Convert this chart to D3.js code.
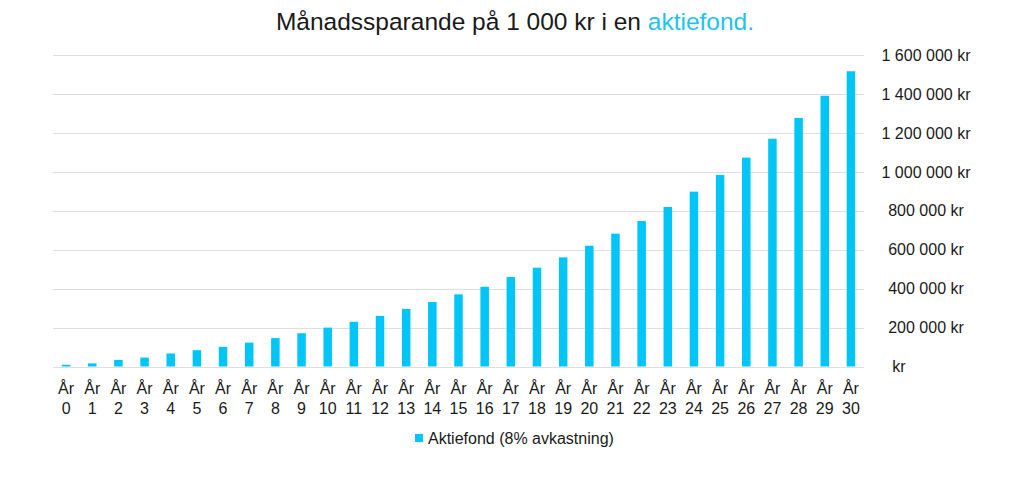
<!DOCTYPE html>
<html>
<head>
<meta charset="utf-8">
<script src="https://cdn.jsdelivr.net/npm/d3@7"></script>
<style>
  body { margin: 0; background: #fff; }
  text { font-family: "Liberation Sans", Arial, sans-serif; fill: #1a1a1a; }
</style>
</head>
<body>
<div id="chart"></div>
<script>
// data
var years = d3.range(0, 31);
var values = [9000, 16000, 34000, 46000, 67000, 84000, 101000, 123000, 146000, 171000,
  200000, 230000, 260000, 296000, 332000, 371000, 410000, 460000, 508000, 561000,
  621000, 683000, 748000, 820000, 899000, 985000, 1074000, 1171000, 1278000, 1392000, 1518000];
var yTicks = [0, 200000, 400000, 600000, 800000, 1000000, 1200000, 1400000, 1600000];
var seriesName = 'Aktiefond (8% avkastning)';
var barColor = '#00c6f8';

chart();

function chart() {
  var w = 1024, h = 497;
  var left = 53, right = 864, top = 55.3, bottom = 366.5;

  var svg = d3.select('#chart').append('svg')
    .attr('width', w)
    .attr('height', h);

  svg.append('rect').attr('width', w).attr('height', h).attr('fill', '#fff');

  var x = d3.scaleBand()
    .domain(years)
    .range([left, right])
    .paddingInner(0.675)
    .paddingOuter(0.3375);

  var y = d3.scaleLinear()
    .domain([0, 1600000])
    .range([bottom, top]);

  // gridlines
  svg.append('g').selectAll('line')
    .data(yTicks)
    .enter()
    .append('line')
    .attr('x1', left)
    .attr('x2', right)
    .attr('y1', function(d) { return Math.round(y(d)) + 0.5; })
    .attr('y2', function(d) { return Math.round(y(d)) + 0.5; })
    .attr('stroke', '#dedede')
    .attr('stroke-width', 1.2);

  // y labels on the right
  var fmt = function(d) {
    if (d === 0) return 'kr';
    return d3.format(',')(d).replace(/,/g, ' ') + ' kr';
  };
  svg.append('g').selectAll('text')
    .data(yTicks)
    .enter()
    .append('text')
    .attr('x', function(d) { return d === 0 ? 899 : 926; })
    .attr('y', function(d) { return y(d) + 5.5; })
    .attr('text-anchor', 'middle')
    .attr('font-size', 16)
    .text(fmt);

  // bars
  svg.append('g').selectAll('rect')
    .data(values)
    .enter()
    .append('rect')
    .attr('x', function(d, i) { return x(years[i]); })
    .attr('y', function(d) { return y(d); })
    .attr('width', x.bandwidth())
    .attr('height', function(d) { return y(0) - y(d); })
    .attr('fill', barColor);

  // x labels
  var xl = svg.append('g').selectAll('g')
    .data(years)
    .enter()
    .append('g')
    .attr('transform', function(d) { return 'translate(' + (x(d) + x.bandwidth() / 2) + ',0)'; });
  xl.append('text')
    .attr('y', 394)
    .attr('text-anchor', 'middle')
    .attr('font-size', 16)
    .text('År');
  xl.append('text')
    .attr('y', 414)
    .attr('text-anchor', 'middle')
    .attr('font-size', 16)
    .text(function(d) { return d; });

  // title
  var t = svg.append('text')
    .attr('x', 515)
    .attr('y', 30)
    .attr('text-anchor', 'middle')
    .attr('font-size', 24.5);
  t.append('tspan').text('Månadssparande på 1 000 kr i en ');
  t.append('tspan').attr('fill', '#1ec3ee').text('aktiefond.');

  // legend
  svg.append('rect')
    .attr('x', 415).attr('y', 434)
    .attr('width', 8).attr('height', 8)
    .attr('fill', barColor);
  svg.append('text')
    .attr('x', 428)
    .attr('y', 444)
    .attr('font-size', 16)
    .text(seriesName);
}
</script>
</body>
</html>
